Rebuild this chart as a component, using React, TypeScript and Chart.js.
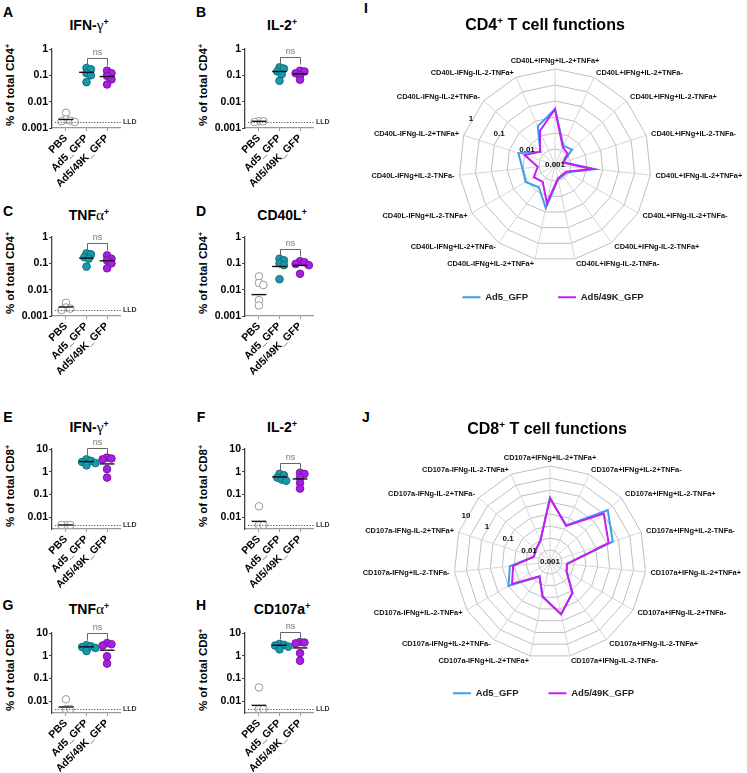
import React, { useEffect, useRef } from 'react';
import { Chart, registerables } from 'chart.js';

Chart.register(...registerables);

const FONT = '"Liberation Sans", Arial, Helvetica, sans-serif';
Chart.defaults.font.family = FONT;
Chart.defaults.color = '#000';

// ---------------- data ----------------
const GROUPS = ['PBS', 'Ad5_GFP', 'Ad5/49K_GFP'];
const SERIES = ['Ad5_GFP', 'Ad5/49K_GFP'];
const CD4_TICKS = [0.001, 0.01, 0.1, 1];
const CD8_TICKS = [0.01, 0.1, 1, 10];
const CD4_LLD = 0.0017;
const CD8_LLD = 0.0045;

// A  CD4 IFN-gamma
const cd4IfngPBS = [0.0038, 0.0021, 0.0019, 0.0018, 0.0017];
const cd4IfngAd5 = [0.19, 0.17, 0.12, 0.1, 0.055];
const cd4Ifng49K = [0.15, 0.12, 0.095, 0.07, 0.045];
const cd4IfngMeans = [0.0021, 0.13, 0.09];
// B  CD4 IL-2
const cd4Il2PBS = [0.0018, 0.0018, 0.0017];
const cd4Il2Ad5 = [0.2, 0.18, 0.14, 0.11, 0.062];
const cd4Il249K = [0.15, 0.14, 0.12, 0.1, 0.068];
const cd4Il2Means = [0.0018, 0.14, 0.113];
// C  CD4 TNF-alpha
const cd4TnfPBS = [0.0032, 0.0021, 0.0019, 0.0017];
const cd4TnfAd5 = [0.24, 0.22, 0.17, 0.15, 0.075];
const cd4Tnf49K = [0.2, 0.15, 0.13, 0.1, 0.065];
const cd4TnfMeans = [0.0022, 0.158, 0.125];
// D  CD4 CD40L
const cd4Cd40lPBS = [0.032, 0.018, 0.015, 0.004, 0.0025];
const cd4Cd40lAd5 = [0.15, 0.13, 0.1, 0.085, 0.025];
const cd4Cd40l49K = [0.12, 0.11, 0.095, 0.085, 0.04];
const cd4Cd40lMeans = [0.0065, 0.076, 0.083];
// E  CD8 IFN-gamma
const cd8IfngPBS = [0.0045, 0.0045, 0.0045];
const cd8IfngAd5 = [3.5, 3.0, 2.7, 2.4, 1.9];
const cd8Ifng49K = [4.2, 3.8, 3.5, 1.3, 0.55];
const cd8IfngMeans = [0.0045, 2.8, 2.2];
// F  CD8 IL-2
const cd8Il2PBS = [0.03, 0.0045, 0.0045];
const cd8Il2Ad5 = [0.8, 0.7, 0.55, 0.45, 0.4];
const cd8Il249K = [0.9, 0.8, 0.55, 0.32, 0.18];
const cd8Il2Means = [0.0065, 0.59, 0.48];
// G  CD8 TNF-alpha
const cd8TnfPBS = [0.012, 0.0045, 0.0045];
const cd8TnfAd5 = [2.9, 2.6, 2.4, 2.2, 1.6];
const cd8Tnf49K = [3.6, 3.2, 2.8, 0.95, 0.45];
const cd8TnfMeans = [0.0055, 2.45, 1.75];
// H  CD8 CD107a
const cd8Cd107PBS = [0.04, 0.0045, 0.0045];
const cd8Cd107Ad5 = [3.3, 3.0, 2.8, 2.5, 1.9];
const cd8Cd10749K = [4.0, 3.8, 3.5, 1.3, 0.6];
const cd8Cd107Means = [0.0065, 2.9, 2.2];

// I  CD4 radar
const cd4Functions = [
  'CD40L+IFNg+IL-2+TNFa+', 'CD40L+IFNg+IL-2+TNFa-', 'CD40L+IFNg+IL-2-TNFa+', 'CD40L+IFNg+IL-2-TNFa-',
  'CD40L+IFNg-IL-2+TNFa+', 'CD40L+IFNg-IL-2+TNFa-', 'CD40L+IFNg-IL-2-TNFa+', 'CD40L+IFNg-IL-2-TNFa-',
  'CD40L-IFNg+IL-2+TNFa+', 'CD40L-IFNg+IL-2+TNFa-', 'CD40L-IFNg+IL-2-TNFa+', 'CD40L-IFNg+IL-2-TNFa-',
  'CD40L-IFNg-IL-2+TNFa+', 'CD40L-IFNg-IL-2+TNFa-', 'CD40L-IFNg-IL-2-TNFa+',
];
const cd4RadarAd5 = [0.056, 0.0045, 0.0052, 0.0019, 0.018, 0.0028, 0.0026, 0.0029, 0.024, 0.0072, 0.0115, 0.0105, 0.016, 0.0041, 0.021];
const cd4Radar49K = [0.056, 0.004, 0.0034, 0.0018, 0.015, 0.0026, 0.0024, 0.0027, 0.0165, 0.0045, 0.0058, 0.0035, 0.01, 0.0042, 0.0145];
const cd4RadarTicks = [0.001, 0.01, 0.1, 1];

// J  CD8 radar
const cd8Functions = [
  'CD107a+IFNg+IL-2+TNFa+', 'CD107a+IFNg+IL-2+TNFa-', 'CD107a+IFNg+IL-2-TNFa+', 'CD107a+IFNg+IL-2-TNFa-',
  'CD107a+IFNg-IL-2+TNFa+', 'CD107a+IFNg-IL-2+TNFa-', 'CD107a+IFNg-IL-2-TNFa+', 'CD107a+IFNg-IL-2-TNFa-',
  'CD107a-IFNg+IL-2+TNFa+', 'CD107a-IFNg+IL-2+TNFa-', 'CD107a-IFNg+IL-2-TNFa+', 'CD107a-IFNg+IL-2-TNFa-',
  'CD107a-IFNg-IL-2+TNFa+', 'CD107a-IFNg-IL-2+TNFa-', 'CD107a-IFNg-IL-2-TNFa+',
];
const cd8RadarAd5 = [0.48, 0.046, 1.73, 0.56, 0.0053, 0.0064, 0.04, 0.17, 0.031, 0.0056, 0.099, 0.048, 0.0052, 0.0061, 0.0097];
const cd8Radar49K = [0.45, 0.045, 1.03, 0.37, 0.0051, 0.0062, 0.038, 0.166, 0.0296, 0.0055, 0.067, 0.035, 0.0051, 0.006, 0.0095];
const cd8RadarTicks = [0.001, 0.01, 0.1, 1, 10];

// ---------------- styles / layout ----------------
const FILLS = ['#ffffff', '#1a98ab', '#a81fe3'];
const BORDERS = ['#9b9b9b', '#0e6f7e', '#7b12a8'];
const BLUE = '#3a9df4';
const MAG = '#c81cf0';

const SW = 190, PAD_T = 14, X_AXIS_H = 65, Y_AXIS_W = 52, PLOT_W = 68;
const X_MIN = 0.32, X_MAX = 3.63;

const CELLS: Record<string, any> = {
  CD4: { yMin: 0.001, yMax: 1, ticks: CD4_TICKS, pxPerDecade: 26.3 },
  CD8: { yMin: 0.003, yMax: 10, ticks: CD8_TICKS, pxPerDecade: 22.8 },
};

const PANELS = [
  { key: 'A', letterY: 12, titleY: 25, axisX: 52, yTop: 49, name: 'IFN-', greek: 'γ', cell: 'CD4', data: [cd4IfngPBS, cd4IfngAd5, cd4Ifng49K], means: cd4IfngMeans, lld: CD4_LLD },
  { key: 'B', letterY: 12, titleY: 25, axisX: 245, yTop: 49, name: 'IL-2', greek: '', cell: 'CD4', data: [cd4Il2PBS, cd4Il2Ad5, cd4Il249K], means: cd4Il2Means, lld: CD4_LLD },
  { key: 'C', letterY: 211, titleY: 215, axisX: 52, yTop: 237, name: 'TNF', greek: 'α', cell: 'CD4', data: [cd4TnfPBS, cd4TnfAd5, cd4Tnf49K], means: cd4TnfMeans, lld: CD4_LLD },
  { key: 'D', letterY: 211, titleY: 215, axisX: 245, yTop: 237, name: 'CD40L', greek: '', cell: 'CD4', data: [cd4Cd40lPBS, cd4Cd40lAd5, cd4Cd40l49K], means: cd4Cd40lMeans, lld: null },
  { key: 'E', letterY: 417, titleY: 427, axisX: 52, yTop: 449, name: 'IFN-', greek: 'γ', cell: 'CD8', data: [cd8IfngPBS, cd8IfngAd5, cd8Ifng49K], means: cd8IfngMeans, lld: CD8_LLD },
  { key: 'F', letterY: 417, titleY: 427, axisX: 245, yTop: 449, name: 'IL-2', greek: '', cell: 'CD8', data: [cd8Il2PBS, cd8Il2Ad5, cd8Il249K], means: cd8Il2Means, lld: CD8_LLD },
  { key: 'G', letterY: 605, titleY: 609, axisX: 52, yTop: 633, name: 'TNF', greek: 'α', cell: 'CD8', data: [cd8TnfPBS, cd8TnfAd5, cd8Tnf49K], means: cd8TnfMeans, lld: CD8_LLD },
  { key: 'H', letterY: 605, titleY: 609, axisX: 245, yTop: 633, name: 'CD107a', greek: '', cell: 'CD8', data: [cd8Cd107PBS, cd8Cd107Ad5, cd8Cd10749K], means: cd8Cd107Means, lld: CD8_LLD },
];

const RADARS = [
  { key: 'I', cell: 'CD4', letterY: 8, titleX: 545, titleY: 25, left: 345, top: 40, width: 402, height: 272, cx: 555, cy: 165, padL: 14, padR: 0,
    labels: cd4Functions, a: cd4RadarAd5, b: cd4Radar49K, ticks: cd4RadarTicks, min: -3, max: 0 },
  { key: 'J', cell: 'CD8', letterY: 417, titleX: 547, titleY: 429, left: 345, top: 440, width: 402, height: 268, cx: 550, cy: 562, padL: 0, padR: 5,
    labels: cd8Functions, a: cd8RadarAd5, b: cd8Radar49K, ticks: cd8RadarTicks, min: -3, max: 1 },
];

// simple beeswarm: horizontal offsets (in x units) so circles do not pile up
function beeswarm(vals: number[], pxPerDecade: number, pxPerUnit: number): number[] {
  const minDist = 4.3, step = 2.2;
  const placed: { x: number; y: number }[] = [];
  const out = vals.map(() => 0);
  const idx = vals.map((_, i) => i).sort((a, b) => vals[b] - vals[a]);
  for (const i of idx) {
    const y = Math.log10(vals[i]) * pxPerDecade;
    for (let k = 0; k < 40; k++) {
      const x = k === 0 ? 0 : (k % 2 === 1 ? 1 : -1) * Math.ceil(k / 2) * step;
      if (placed.every((p) => Math.hypot(p.x - x, p.y - y) >= minDist)) {
        placed.push({ x, y });
        out[i] = x / pxPerUnit;
        break;
      }
    }
  }
  return out;
}

const Sup = () => (
  <span style={{ fontSize: '62%', position: 'relative', top: '-0.6em' }}>+</span>
);

function Txt({ x, y, children, style, rotate }: any) {
  return (
    <div
      style={{
        position: 'absolute', left: x, top: y, whiteSpace: 'nowrap', lineHeight: 1,
        transform: `translate(-50%, -50%)${rotate ? ' rotate(-90deg)' : ''}`,
        fontFamily: FONT, fontWeight: 'bold', color: '#000', ...style,
      }}
    >
      {children}
    </div>
  );
}

function ScatterPanel({ p }: { p: any }) {
  const ref = useRef<HTMLCanvasElement>(null);
  const c = CELLS[p.cell];
  const plotH = Math.round(Math.log10(c.yMax / c.yMin) * c.pxPerDecade);
  const H = PAD_T + plotH + X_AXIS_H;
  useEffect(() => {
    const pxPerUnit = PLOT_W / (X_MAX - X_MIN);
    const datasets: any[] = [];
    p.means.forEach((m: number, gi: number) => {
      datasets.push({
        type: 'line', data: [{ x: gi + 1 - 0.36, y: m }, { x: gi + 1 + 0.36, y: m }],
        borderColor: '#111', borderWidth: 1.4, pointRadius: 0, order: 0, clip: false,
      });
    });
    p.data.forEach((vals: number[], gi: number) => {
      const off = beeswarm(vals, c.pxPerDecade, pxPerUnit);
      datasets.push({
        type: 'scatter', label: GROUPS[gi],
        data: vals.map((v, i) => ({ x: gi + 1 + off[i], y: v })),
        pointRadius: 3.8, pointBackgroundColor: FILLS[gi], pointBorderColor: BORDERS[gi],
        pointBorderWidth: 1, backgroundColor: FILLS[gi], borderColor: BORDERS[gi], order: 1, clip: false,
      });
    });
    const annot = {
      id: 'annot' + p.key,
      afterDatasetsDraw(chart: any) {
        const { ctx, chartArea } = chart;
        const x = chart.scales.x, y = chart.scales.y;
        ctx.save();
        if (p.lld != null) {
          const py = Math.round(y.getPixelForValue(p.lld)) + 0.5;
          ctx.strokeStyle = '#555';
          ctx.lineWidth = 1;
          ctx.setLineDash([1.2, 1.6]);
          ctx.beginPath();
          ctx.moveTo(chartArea.left + 3, py);
          ctx.lineTo(chartArea.right + 1, py);
          ctx.stroke();
          ctx.setLineDash([]);
          ctx.fillStyle = '#333';
          ctx.font = `bold 7px ${FONT}`;
          ctx.textAlign = 'left';
          ctx.textBaseline = 'middle';
          ctx.fillText('LLD', chartArea.right + 3, py);
        }
        const top = Math.round(Math.min(
          y.getPixelForValue(Math.max(...p.data[1])),
          y.getPixelForValue(Math.max(...p.data[2])),
        ) - 10) + 0.5;
        const x1 = Math.round(x.getPixelForValue(2)) + 0.5, x2 = Math.round(x.getPixelForValue(3)) + 0.5;
        ctx.strokeStyle = '#666';
        ctx.lineWidth = 1;
        ctx.beginPath();
        ctx.moveTo(x1, top + 7);
        ctx.lineTo(x1, top);
        ctx.lineTo(x2, top);
        ctx.lineTo(x2, top + 7);
        ctx.stroke();
        ctx.fillStyle = '#777';
        ctx.font = `9px ${FONT}`;
        ctx.textAlign = 'center';
        ctx.textBaseline = 'bottom';
        ctx.fillText('ns', (x1 + x2) / 2, top - 1);
        ctx.restore();
      },
    };
    const chart = new Chart(ref.current as HTMLCanvasElement, {
      type: 'scatter',
      data: { datasets },
      options: {
        responsive: false, animation: false, events: [],
        layout: { padding: { top: PAD_T, right: SW - Y_AXIS_W - PLOT_W, left: 0, bottom: 0 } },
        plugins: { legend: { display: false }, tooltip: { enabled: false } },
        scales: {
          x: {
            type: 'linear', min: X_MIN, max: X_MAX,
            afterBuildTicks: (s: any) => { s.ticks = [1, 2, 3].map((v) => ({ value: v })); },
            ticks: {
              autoSkip: false, minRotation: 45, maxRotation: 45, padding: 1, color: '#000',
              font: { size: 10.5, weight: 'bold' },
              callback: (v: any) => GROUPS[Math.round(Number(v)) - 1],
            },
            grid: { drawOnChartArea: false, drawTicks: true, tickLength: 3, color: '#999' },
            border: { display: true, color: '#999', width: 1.3 },
            afterFit: (s: any) => { s.height = X_AXIS_H; },
          },
          y: {
            type: 'logarithmic', min: c.yMin, max: c.yMax,
            afterBuildTicks: (s: any) => { s.ticks = c.ticks.map((v: number) => ({ value: v })); },
            ticks: {
              autoSkip: false, padding: 1, color: '#000',
              font: { size: 10.5, weight: 'bold' },
              callback: (v: any) => String(v),
            },
            grid: { drawOnChartArea: false, drawTicks: true, tickLength: 3, color: '#444' },
            border: { display: true, color: '#444', width: 1.3 },
            afterFit: (s: any) => { s.width = Y_AXIS_W; },
          },
        },
      } as any,
      plugins: [annot],
    } as any);
    return () => chart.destroy();
  }, []);
  return (
    <canvas
      ref={ref}
      width={SW}
      height={H}
      style={{ position: 'absolute', left: p.axisX - Y_AXIS_W, top: p.yTop - PAD_T, width: SW, height: H }}
    />
  );
}

function RadarPanel({ r }: { r: any }) {
  const ref = useRef<HTMLCanvasElement>(null);
  useEffect(() => {
    const labelsPlugin = {
      id: 'radarText' + r.key,
      afterDraw(chart: any) {
        const { ctx } = chart;
        const s = chart.scales.r;
        ctx.save();
        ctx.fillStyle = '#111';
        ctx.font = `bold 7.4px ${FONT}`;
        ctx.textBaseline = 'middle';
        r.labels.forEach((lab: string, i: number) => {
          const pos = s.getPointPosition(i, s.drawingArea + 5);
          const dx = pos.x - s.xCenter;
          let y = pos.y;
          if (Math.abs(dx) < 2) { ctx.textAlign = 'center'; y -= 3; }
          else ctx.textAlign = dx > 0 ? 'left' : 'right';
          ctx.fillText(lab, pos.x, y);
        });
        const ang = (299 * Math.PI) / 180;
        const ux = Math.sin(ang), uy = -Math.cos(ang);
        ctx.font = `bold 8px ${FONT}`;
        ctx.textAlign = 'center';
        r.ticks.forEach((v: number) => {
          const d = s.getDistanceFromCenterForValue(Math.log10(v));
          ctx.fillText(String(v), s.xCenter + ux * d, s.yCenter + uy * d);
        });
        ctx.restore();
      },
    };
    const chart = new Chart(ref.current as HTMLCanvasElement, {
      type: 'radar',
      data: {
        labels: r.labels,
        datasets: [
          { label: SERIES[0], data: r.a.map((v: number) => Math.log10(v)), borderColor: BLUE, backgroundColor: BLUE, borderWidth: 2, pointRadius: 0, fill: false, order: 1, clip: false },
          { label: SERIES[1], data: r.b.map((v: number) => Math.log10(v)), borderColor: MAG, backgroundColor: MAG, borderWidth: 2, pointRadius: 0, fill: false, order: 0, clip: false },
        ],
      },
      options: {
        responsive: false, animation: false, events: [],
        layout: { padding: { left: r.padL, right: r.padR, top: 0, bottom: 0 } },
        elements: { line: { tension: 0 } },
        scales: {
          r: {
            min: r.min, max: r.max,
            ticks: { display: false, stepSize: 0.5 },
            pointLabels: { display: false },
            grid: { color: '#bfbfbf', lineWidth: 1 },
            angleLines: { display: true, color: '#d6d6d6', lineWidth: 1 },
            afterFit: (sc: any) => {
              sc.xCenter = r.cx - r.left;
              sc.yCenter = r.cy - r.top;
              sc.drawingArea = 96;
            },
          },
        },
        plugins: {
          tooltip: { enabled: false },
          legend: {
            position: 'bottom', reverse: true,
            labels: { usePointStyle: true, pointStyle: 'line', pointStyleWidth: 18, padding: 30, color: '#222', font: { size: 9.5, weight: 'bold' } },
          },
        },
      } as any,
      plugins: [labelsPlugin],
    } as any);
    return () => chart.destroy();
  }, []);
  return (
    <canvas
      ref={ref}
      width={r.width}
      height={r.height}
      style={{ position: 'absolute', left: r.left, top: r.top, width: r.width, height: r.height }}
    />
  );
}

export default function App() {
  return (
    <div style={{ position: 'absolute', left: 0, top: 0, width: 747, height: 773, background: '#fff', overflow: 'hidden' }}>
      {PANELS.map((p) => {
        const c = CELLS[p.cell];
        const plotH = Math.log10(c.yMax / c.yMin) * c.pxPerDecade;
        return (
          <React.Fragment key={p.key}>
            <Txt x={p.axisX - 44} y={p.letterY} style={{ fontSize: 14 }}>{p.key}</Txt>
            <Txt x={p.axisX + 37} y={p.titleY} style={{ fontSize: 14 }}>
              {p.name}
              {p.greek ? <span style={{ fontFamily: '"Liberation Serif", "DejaVu Serif", serif', fontWeight: 'normal', fontSize: '110%' }}>{p.greek}</span> : null}
              <Sup />
            </Txt>
            <Txt x={p.axisX - 41} y={p.yTop + plotH / 2 - 3} rotate style={{ fontSize: 11.5 }}>
              % of total {p.cell}<Sup />
            </Txt>
            <ScatterPanel p={p} />
          </React.Fragment>
        );
      })}
      {RADARS.map((r) => (
        <React.Fragment key={r.key}>
          <Txt x={366} y={r.letterY} style={{ fontSize: 14 }}>{r.key}</Txt>
          <RadarPanel r={r} />
          <Txt x={r.titleX} y={r.titleY} style={{ fontSize: 16 }}>
            {r.cell}<Sup /> T cell functions
          </Txt>
        </React.Fragment>
      ))}
    </div>
  );
}
